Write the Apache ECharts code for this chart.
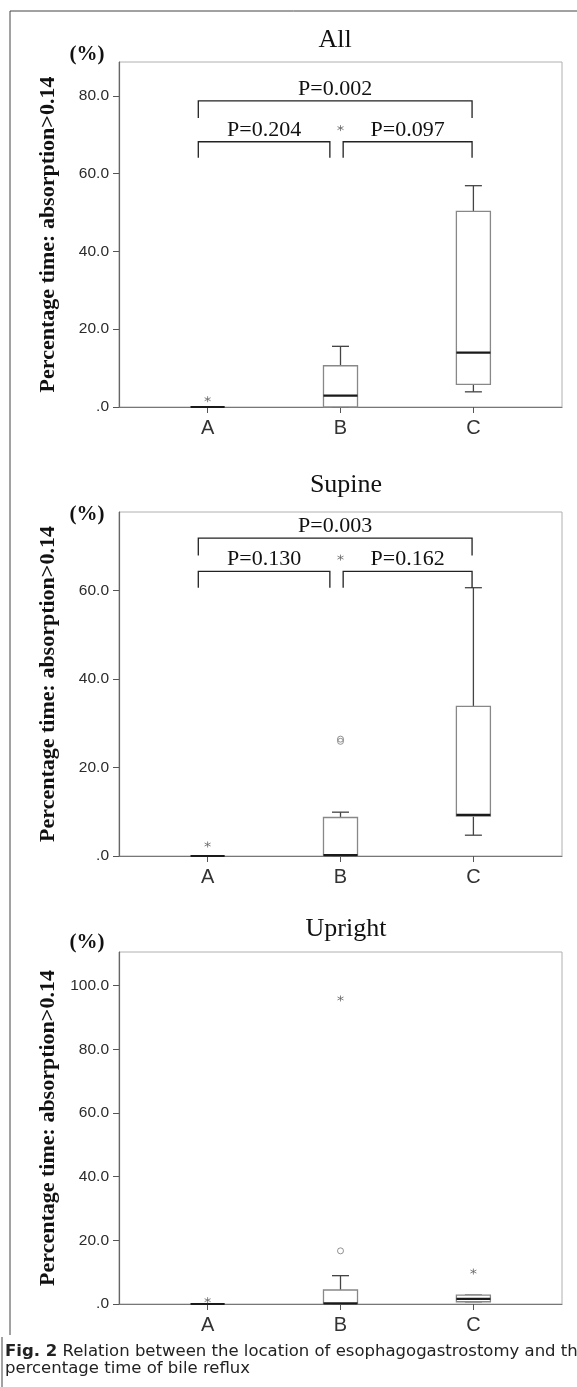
<!DOCTYPE html>
<html>
<head>
<meta charset="utf-8">
<title>Fig. 2</title>
<style>
html, body { margin: 0; padding: 0; background: #fff; }
#main { width: 577px; height: 1387px; }
</style>
<script src="https://cdn.jsdelivr.net/npm/echarts@6.0.0/dist/echarts.min.js"></script>
</head>
<body>
<div id="main"></div>
<script>
var categories = ['A', 'B', 'C'];
var panelTitles = ['All', 'Supine', 'Upright'];
// per category: [lower whisker, Q1, median, Q3, upper whisker]
var allBoxes = [[0, 0, 0, 0, 0], [0, 0, 2.9, 10.6, 15.6], [3.9, 5.8, 14.0, 50.3, 56.9]];
var supineBoxes = [[0, 0, 0, 0, 0], [0, 0, 0.2, 8.7, 9.9], [4.7, 9.0, 9.3, 33.8, 60.6]];
var uprightBoxes = [[0, 0, 0, 0, 0], [0, 0, 0.2, 4.4, 8.9], [0.7, 0.7, 1.6, 2.8, 2.8]];
// extremes (*) and outliers (o): [category position, value]
var allStars = [[1, 2.0], [2, 71.7]];
var allCircles = [];
var supineStars = [[1, 2.6], [2, 67.4]];
var supineCircles = [[2, 25.9], [2, 26.4]];
var uprightStars = [[1, 1.2], [2, 96.0], [3, 10.2]];
var uprightCircles = [[2, 16.7]];
// y axis ticks and tops
var allTicks = [0, 20, 40, 60, 80];
var supineTicks = [0, 20, 40, 60];
var uprightTicks = [0, 20, 40, 60, 80, 100];
var yMaxes = [88.7, 77.7, 110.6];
// brackets: [from, to, bar level, leg end, label]
var allBrackets = [[0.93, 2.99, 78.7, 74.3, 'P=0.002'], [0.93, 1.92, 68.2, 64.1, 'P=0.204'], [2.02, 2.99, 68.2, 64.1, 'P=0.097']];
var supineBrackets = [[0.93, 2.99, 71.8, 67.9, 'P=0.003'], [0.93, 1.92, 64.3, 60.6, 'P=0.130'], [2.02, 2.99, 64.3, 60.6, 'P=0.162']];
var uprightBrackets = [];

var panels = [
    {boxes: allBoxes, stars: allStars, circles: allCircles, ticks: allTicks, brackets: allBrackets},
    {boxes: supineBoxes, stars: supineStars, circles: supineCircles, ticks: supineTicks, brackets: supineBrackets},
    {boxes: uprightBoxes, stars: uprightStars, circles: uprightCircles, ticks: uprightTicks, brackets: uprightBrackets}
];
var gridTops = [62, 512, 952];
var gridHeights = [345, 344, 352];
var titlePos = [[335, 40], [346, 485], [346, 929]];
var pctY = [55, 515, 943];

var SERIF = '"Liberation Serif", "Times New Roman", serif';
var SANS = '"Liberation Sans", Arial, sans-serif';
var CAPTION = '"DejaVu Sans", "Noto Sans", sans-serif';

function renderBox(params, api) {
    var x = api.value(0);
    var lo = api.coord([x, api.value(1)]);
    var q1 = api.coord([x, api.value(2)]);
    var md = api.coord([x, api.value(3)]);
    var q3 = api.coord([x, api.value(4)]);
    var hi = api.coord([x, api.value(5)]);
    var w = api.size([0.256, 0])[0];
    var cx = lo[0];
    var wk = {stroke: '#444', lineWidth: 1.3, fill: null};
    return {
        type: 'group',
        children: [
            {type: 'line', shape: {x1: cx, y1: hi[1], x2: cx, y2: q3[1]}, style: wk},
            {type: 'line', shape: {x1: cx, y1: q1[1], x2: cx, y2: lo[1]}, style: wk},
            {type: 'line', shape: {x1: cx - w / 4, y1: hi[1], x2: cx + w / 4, y2: hi[1]}, style: wk},
            {type: 'line', shape: {x1: cx - w / 4, y1: lo[1], x2: cx + w / 4, y2: lo[1]}, style: wk},
            {type: 'rect', shape: {x: cx - w / 2, y: q3[1], width: w, height: q1[1] - q3[1]},
                style: {fill: '#fff', stroke: '#888', lineWidth: 1.3}},
            {type: 'line', shape: {x1: cx - w / 2, y1: md[1], x2: cx + w / 2, y2: md[1]},
                style: {stroke: '#1a1a1a', lineWidth: 2.2}}
        ]
    };
}

function bracketRenderer(list) {
    return function (params, api) {
        var b = list[params.dataIndex];
        var p0 = api.coord([b[0], b[3]]);
        var p1 = api.coord([b[0], b[2]]);
        var p2 = api.coord([b[1], b[2]]);
        var p3 = api.coord([b[1], b[3]]);
        var mid = api.coord([(b[0] + b[1]) / 2, b[2]]);
        return {
            type: 'group',
            children: [
                {type: 'polyline', shape: {points: [p0, p1, p2, p3]},
                    style: {stroke: '#222', lineWidth: 1.3, fill: null}},
                {type: 'text', x: mid[0], y: mid[1] - 1,
                    style: {text: b[4], font: '22px ' + SERIF, fill: '#111',
                        align: 'center', verticalAlign: 'bottom',
                        textAlign: 'center', textVerticalAlign: 'bottom'}}
            ]
        };
    };
}

var myChart = echarts.init(document.getElementById('main'), null, {renderer: 'canvas'});
var grids = [], xAxes = [], yAxes = [], series = [], graphics = [];

panels.forEach(function (p, i) {
    grids.push({
        left: 119, right: 15, top: gridTops[i], height: gridHeights[i],
        show: true, borderColor: '#b0b0b0', borderWidth: 1,
        backgroundColor: 'transparent', containLabel: false, outerBoundsMode: 'none'
    });
    xAxes.push({
        type: 'value', gridIndex: i, min: 1 / 3, max: 11 / 3,
        splitLine: {show: false},
        axisLine: {show: true, onZero: false, lineStyle: {color: '#777', width: 1.2}},
        axisTick: {show: true, customValues: [1, 2, 3], length: 6, lineStyle: {color: '#555'}},
        axisLabel: {show: true, customValues: [1, 2, 3], margin: 11, fontSize: 20, fontFamily: SANS, color: '#333',
            formatter: function (v) { return categories[Math.round(v) - 1] || ''; }}
    });
    yAxes.push({
        type: 'value', gridIndex: i, min: 0, max: yMaxes[i],
        name: 'Percentage time: absorption>0.14', nameLocation: 'middle', nameGap: 60,
        nameTextStyle: {fontFamily: SERIF, fontWeight: 'bold', fontSize: 22, color: '#111'},
        splitLine: {show: false},
        axisLine: {show: true, lineStyle: {color: '#666', width: 1.2}},
        axisTick: {show: true, customValues: p.ticks, length: 6, lineStyle: {color: '#555'}},
        axisLabel: {show: true, customValues: p.ticks, margin: 10, fontSize: 15.5, fontFamily: SANS, color: '#2b2b2b',
            formatter: function (v) { return v === 0 ? '.0' : v.toFixed(1); }}
    });
    series.push({
        type: 'custom', xAxisIndex: i, yAxisIndex: i, silent: true,
        renderItem: renderBox,
        data: p.boxes.map(function (b, k) { return [k + 1].concat(b); }),
        z: 3
    });
    series.push({
        type: 'scatter', xAxisIndex: i, yAxisIndex: i, silent: true,
        symbol: 'circle', symbolSize: 6,
        itemStyle: {color: 'transparent', borderColor: '#777', borderWidth: 1},
        data: p.circles, z: 4
    });
    series.push({
        type: 'scatter', xAxisIndex: i, yAxisIndex: i, silent: true,
        symbol: 'path://M5,0L5,10M0.67,2.5L9.33,7.5M0.67,7.5L9.33,2.5', symbolSize: 6,
        itemStyle: {color: 'transparent', borderColor: '#666', borderWidth: 1},
        data: p.stars, z: 4
    });
    if (p.brackets.length) {
        series.push({
            type: 'custom', xAxisIndex: i, yAxisIndex: i, silent: true,
            renderItem: bracketRenderer(p.brackets),
            data: p.brackets.map(function (b) { return [b[0], b[1], b[2], b[3]]; }),
            z: 5
        });
    }
    graphics.push({type: 'text', x: titlePos[i][0], y: titlePos[i][1],
        style: {text: panelTitles[i], font: '26px ' + SERIF, fill: '#111',
            align: 'center', verticalAlign: 'middle', textAlign: 'center', textVerticalAlign: 'middle'}});
    graphics.push({type: 'text', x: 87, y: pctY[i],
        style: {text: '(%)', font: 'bold 21px ' + SERIF, fill: '#111',
            align: 'center', verticalAlign: 'middle', textAlign: 'center', textVerticalAlign: 'middle'}});
});

// figure frame and caption
graphics.push({type: 'line', shape: {x1: 10, y1: 11, x2: 577, y2: 11}, style: {stroke: '#444', lineWidth: 1}});
graphics.push({type: 'line', shape: {x1: 10, y1: 11, x2: 10, y2: 1335}, style: {stroke: '#444', lineWidth: 1}});
graphics.push({type: 'line', shape: {x1: 2, y1: 1337, x2: 2, y2: 1387}, style: {stroke: '#444', lineWidth: 1}});
graphics.push({type: 'text', x: 5, y: 1343,
    style: {text: '{b|Fig. 2} Relation between the location of esophagogastrostomy and the\npercentage time of bile reflux',
        font: '16.5px ' + CAPTION, fill: '#222', lineHeight: 17,
        rich: {b: {fontWeight: 'bold', fontSize: 16.5, fontFamily: CAPTION, fill: '#222'}}}});

option = {
    animation: false,
    backgroundColor: '#fff',
    grid: grids,
    xAxis: xAxes,
    yAxis: yAxes,
    series: series,
    graphic: graphics
};
myChart.setOption(option);
</script>
</body>
</html>
